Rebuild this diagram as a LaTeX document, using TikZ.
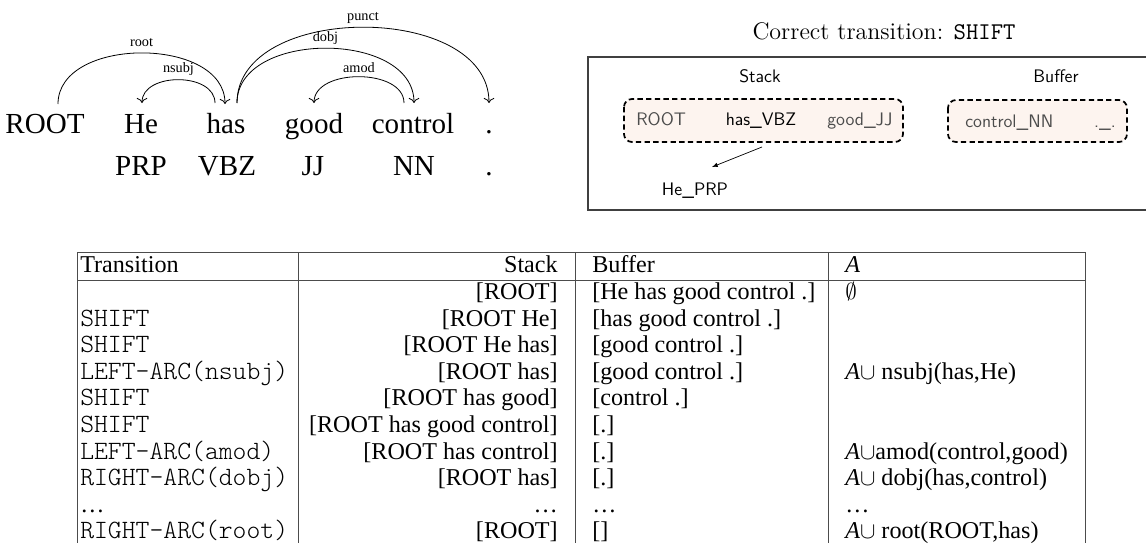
\documentclass[tikz,border=0pt]{standalone}
\usepackage{fontspec}
\setmainfont{Liberation Serif}
\setmonofont{lmmonolt10-regular.otf}
\newfontfamily\cmrm{lmroman12-regular.otf}
\newfontfamily\cmtt{lmmono12-regular.otf}
\newfontfamily\cmsf{lmsans12-regular.otf}
\usepackage{tikz}
\usetikzlibrary{calc}
\usetikzlibrary{arrows}
\usetikzlibrary{arrows.meta}
\tikzset{>=latex}
\definecolor{boxfill}{HTML}{FDF4EF}
\definecolor{tokgray}{gray}{0.3}
\tikzstyle{word} = [draw=none, inner sep=0, anchor=base, font=\fontsize{21.8}{24}\selectfont]
\tikzstyle{arclab} = [draw=none, above, inner sep=2.5pt, font=\fontsize{10.7}{12}\selectfont]
\tikzstyle{dep} = [-{To[scale=1.3]}, line width=0.6pt]
\tikzstyle{tok} = [draw=none, inner sep=0, text=tokgray, font=\cmsf\fontsize{13.6}{15}\selectfont]
\tikzstyle{dashbox} = [draw, line width=1.3pt, dash pattern=on 4pt off 2.5pt, rounded corners=6pt, fill=boxfill]
\tikzstyle{cell} = [draw=none, inner sep=0, font=\fontsize{18.1}{20}\selectfont]
\tikzstyle{mono} = [draw=none, inner sep=0, anchor=base west, font=\ttfamily\fontsize{19.8}{20}\selectfont]
\tikzstyle{tabline} = [draw=black!70, line width=0.7pt]

\begin{document}
\begin{tikzpicture}[x=0.75pt, y=-0.75pt]
\useasboundingbox (0,0) rectangle (1146,543);
% sentence and tags
\node [word] (root) at (45, 133) {ROOT};
\node [word] (he) at (141, 133) {He};
\node [word] (has) at (226, 133) {has};
\node [word] (good) at (314, 133) {good};
\node [word] (control) at (413, 133) {control};
\node [word] (punc) at (489, 133) {.};
\node [word] (prp) at (141, 175) {PRP};
\node [word] (vbz) at (227, 175) {VBZ};
\node [word] (jj) at (313, 175) {JJ};
\node [word] (nn) at (414, 175) {NN};
\node [word] (tagpunc) at (489, 175) {.};
% arcs
\draw [dep] ($(root.base)+(13,-29)$) .. controls +(0,-68) and +(0,-68) .. ($(has.base)+(-1,-29)$) node [arclab, midway, yshift=2pt] {root};
\draw [dep] ($(has.base)+(-11,-30)$) .. controls +(0,-31) and +(0,-31) .. ($(he.base)+(1,-30)$) node [arclab, midway] {nsubj};
\draw [dep] ($(has.base)+(11,-30)$) .. controls +(0,-73) and +(0,-73) .. ($(control.base)+(1,-30)$) node [arclab, midway] {dobj};
\draw [dep] ($(has.base)+(11,-30)$) .. controls +(0,-101) and +(0,-101) .. ($(punc.base)+(0,-30)$) node [arclab, midway] {punct};
\draw [dep] ($(control.base)+(-9,-30)$) .. controls +(0,-35) and +(0,-35) .. ($(good.base)+(0,-30)$) node [arclab, midway] {amod};

% configuration panel
\node [draw=none, inner sep=0, anchor=base, font=\cmrm\fontsize{18}{20}\selectfont] (title) at (884, 39) {Correct transition: {\cmtt SHIFT}};
\draw [draw=black!75, line width=0.8pt] (1146,57) -- (588,57) -- (588,210) -- (1146,210);
\node [tok, anchor=base, text=black] (stack) at (760, 82) {Stack};
\node [tok, anchor=base, text=black] (buffer) at (1056, 82) {Buffer};
\draw [dashbox] (624,99) rectangle (903,142);
\draw [dashbox] (948,100) rectangle (1127,142);
\node [tok, anchor=base west] (sroot) at (636, 125) {ROOT};
\node [tok, anchor=base, text=black] (hasvbz) at (761, 125) {has\_VBZ};
\node [tok, anchor=base west] (goodjj) at (827, 125) {good\_JJ};
\node [tok, anchor=base west] (controlnn) at (965, 127) {control\_NN};
\node [tok, anchor=base] (dotdot) at (1105, 127) {.\_.};
\node [tok, anchor=base, text=black] (heprp) at (695, 195) {He\_PRP};
\draw [-latex, line width=0.5pt] ($(hasvbz.base)+(1,22)$) -- ($(heprp.base)+(17,-28)$);

% transition table
\draw [tabline] (77,252) -- (1085,252);
\draw [tabline] (77,280) -- (1085,280);
\draw [tabline] (77,252) -- (77,543);
\draw [tabline] (298,252) -- (298,543);
\draw [tabline] (575,252) -- (575,543);
\draw [tabline] (828,252) -- (828,543);
\draw [tabline] (1085,252) -- (1085,543);
\node [cell, anchor=base west] (t0) at (80, 272) {Transition};
\node [cell, anchor=base east] (s0) at (558, 272) {Stack};
\node [cell, anchor=base west] (b0) at (592, 272) {Buffer};
\node [cell, anchor=base west] (a0) at (845, 272) {\textit{A}};
% rows
\node [cell, anchor=base east] (s1) at (558, 299) {[ROOT]};
\node [cell, anchor=base west] (b1) at (592, 299) {[He has good control .]};
\node [cell, anchor=base west] (a1) at (845, 299) {$\emptyset$};
\node [mono] (t2) at (80, 326) {SHIFT};
\node [cell, anchor=base east] (s2) at (558, 326) {[ROOT He]};
\node [cell, anchor=base west] (b2) at (592, 326) {[has good control .]};
\node [mono] (t3) at (80, 352) {SHIFT};
\node [cell, anchor=base east] (s3) at (558, 352) {[ROOT He has]};
\node [cell, anchor=base west] (b3) at (592, 352) {[good control .]};
\node [mono] (t4) at (80, 379) {LEFT-ARC(nsubj)};
\node [cell, anchor=base east] (s4) at (558, 379) {[ROOT has]};
\node [cell, anchor=base west] (b4) at (592, 379) {[good control .]};
\node [cell, anchor=base west] (a4) at (845, 379) {\textit{A}$\cup$ nsubj(has,He)};
\node [mono] (t5) at (80, 405) {SHIFT};
\node [cell, anchor=base east] (s5) at (558, 405) {[ROOT has good]};
\node [cell, anchor=base west] (b5) at (592, 405) {[control .]};
\node [mono] (t6) at (80, 432) {SHIFT};
\node [cell, anchor=base east] (s6) at (558, 432) {[ROOT has good control]};
\node [cell, anchor=base west] (b6) at (592, 432) {[.]};
\node [mono] (t7) at (80, 459) {LEFT-ARC(amod)};
\node [cell, anchor=base east] (s7) at (558, 459) {[ROOT has control]};
\node [cell, anchor=base west] (b7) at (592, 459) {[.]};
\node [cell, anchor=base west] (a7) at (845, 459) {\textit{A}$\cup$amod(control,good)};
\node [mono] (t8) at (80, 485) {RIGHT-ARC(dobj)};
\node [cell, anchor=base east] (s8) at (558, 485) {[ROOT has]};
\node [cell, anchor=base west] (b8) at (592, 485) {[.]};
\node [cell, anchor=base west] (a8) at (845, 485) {\textit{A}$\cup$ dobj(has,control)};
\node [cell, anchor=base west] (t9) at (80, 512) {\dots};
\node [cell, anchor=base east] (s9) at (558, 512) {\dots};
\node [cell, anchor=base west] (b9) at (592, 512) {\dots};
\node [cell, anchor=base west] (a9) at (845, 512) {\dots};
\node [mono] (t10) at (80, 538) {RIGHT-ARC(root)};
\node [cell, anchor=base east] (s10) at (558, 538) {[ROOT]};
\node [cell, anchor=base west] (b10) at (592, 538) {[]};
\node [cell, anchor=base west] (a10) at (845, 538) {\textit{A}$\cup$ root(ROOT,has)};
\end{tikzpicture}
\end{document}
